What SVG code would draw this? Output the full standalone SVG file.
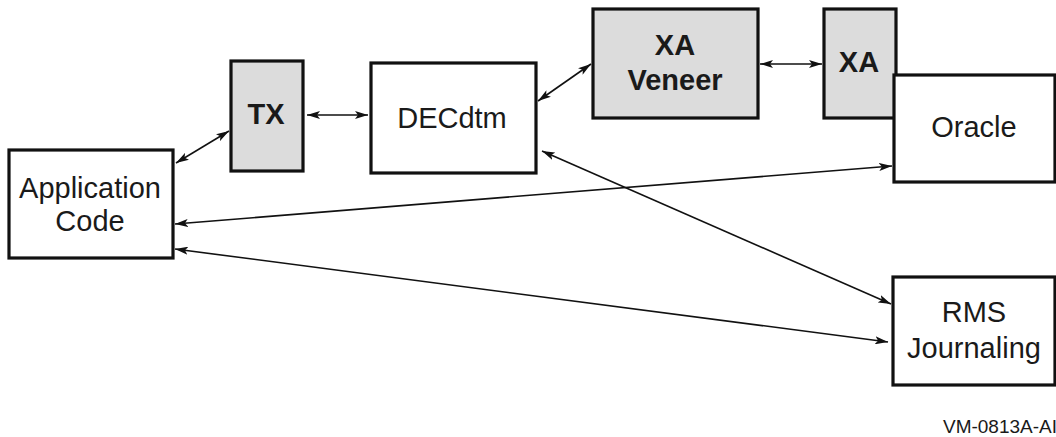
<svg xmlns="http://www.w3.org/2000/svg" width="1056" height="437" viewBox="0 0 1056 437">
<defs>
<marker id="ah" viewBox="0 0 13 8" refX="13" refY="4" markerWidth="13" markerHeight="8" markerUnits="userSpaceOnUse" orient="auto-start-reverse">
<path d="M0,0 L13,4 L0,8 L3,4 z" fill="#111"/>
</marker>
<style>
.box{fill:#fff;stroke:#111;stroke-width:3.2}
.gbox{fill:#dcdcdc;stroke:#111;stroke-width:3.2}
.t{font-family:"Liberation Sans",Arial,sans-serif;font-size:29px;fill:#1a1a1a;text-anchor:middle}
.b{font-weight:bold}
.c{stroke:#111;stroke-width:1.6;fill:none;marker-start:url(#ah);marker-end:url(#ah)}
</style>
</defs>
<rect width="1056" height="437" fill="#fff"/>
<g id="connectors">
<line class="c" x1="176" y1="163" x2="229" y2="131"/>
<line class="c" x1="307" y1="115" x2="368" y2="115"/>
<line class="c" x1="538" y1="101" x2="591" y2="64"/>
<line class="c" x1="760" y1="64" x2="822" y2="64"/>
<line class="c" x1="175" y1="224" x2="892" y2="166"/>
<line class="c" x1="542" y1="151" x2="891" y2="304"/>
<line class="c" x1="175" y1="249" x2="888" y2="342"/>
</g>
<g id="app">
<rect class="box" x="9" y="150" width="164" height="108"/>
<text class="t" x="90" y="198">Application</text>
<text class="t" x="90" y="231">Code</text>
</g>
<g id="tx">
<rect class="gbox" x="231" y="61" width="72" height="110"/>
<text class="t b" x="266" y="124">TX</text>
</g>
<g id="decdtm">
<rect class="box" x="371" y="63" width="165" height="110"/>
<text class="t" x="452" y="128">DECdtm</text>
</g>
<g id="xaveneer">
<rect class="gbox" x="593" y="9" width="165" height="109"/>
<text class="t b" x="675" y="55">XA</text>
<text class="t b" x="675" y="90">Veneer</text>
</g>
<g id="xa">
<rect class="gbox" x="824" y="9" width="72" height="109"/>
<text class="t b" x="859" y="72">XA</text>
</g>
<g id="oracle">
<rect class="box" x="894" y="75" width="161" height="107"/>
<text class="t" x="974" y="137">Oracle</text>
</g>
<g id="rms">
<rect class="box" x="893" y="277" width="162" height="108"/>
<text class="t" x="974" y="322">RMS</text>
<text class="t" x="974" y="358">Journaling</text>
</g>
<text x="1057" y="433" font-family="'Liberation Sans',Arial,sans-serif" font-size="19" fill="#1a1a1a" text-anchor="end">VM-0813A-AI</text>
</svg>
